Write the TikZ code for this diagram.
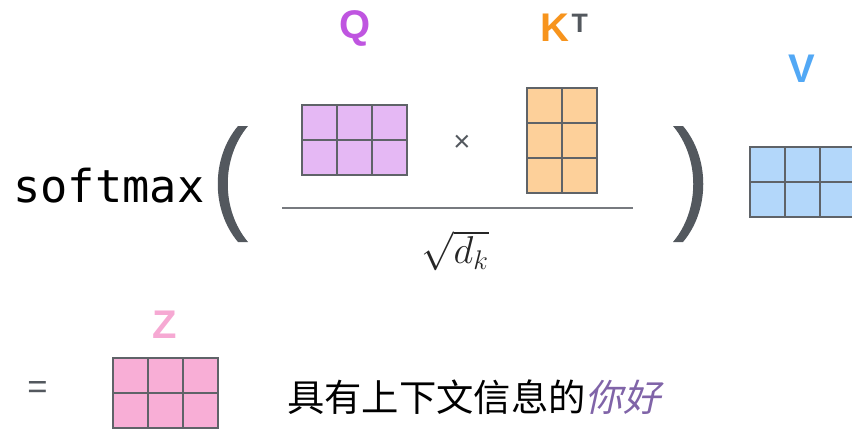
\documentclass[tikz,border=0pt]{standalone}
\usepackage{fontspec}
\setmainfont{Liberation Sans}
\newfontfamily\codefont{DejaVu Sans Mono}
\newfontfamily\cjkfont{Noto Sans CJK SC}
\newfontfamily\cjkslant[FakeSlant=0.22]{Noto Sans CJK SC}
\definecolor{atInk}{HTML}{53585E}
\definecolor{atGrid}{HTML}{5F6368}
\definecolor{atQ}{HTML}{BF55E0}
\definecolor{atQfill}{HTML}{E5B8F4}
\definecolor{atK}{HTML}{F7941D}
\definecolor{atKfill}{HTML}{FDD09A}
\definecolor{atV}{HTML}{52A8F5}
\definecolor{atVfill}{HTML}{B3D7FA}
\definecolor{atZ}{HTML}{F6A9D3}
\definecolor{atZfill}{HTML}{F8AED6}
\definecolor{atGreet}{HTML}{8064A8}
\usetikzlibrary{positioning}

\begin{document}
\begin{tikzpicture}[
  x=0.75pt,y=-0.75pt,
  cell/.style={draw=atGrid,line width=0.9pt,minimum size=26.25pt,inner sep=0pt,outer sep=0pt},
  qcell/.style={cell,fill=atQfill},
  kcell/.style={cell,fill=atKfill},
  vcell/.style={cell,fill=atVfill},
  zcell/.style={cell,fill=atZfill},
  mlbl/.style={font=\fontsize{30}{32}\selectfont\bfseries,inner sep=0pt},
  paren/.style={fill=atInk,draw=none}
]
\clip (0,0) rectangle (852,428);
\def\side{35}
% matrices
\foreach \r in {0,1}
  \foreach \k in {0,1,2}
  {
    \node[qcell] (q\r\k) at ({302+\side/2+\k*\side},{105+\side/2+\r*\side}) {};
    \node[vcell] (v\r\k) at ({750+\side/2+\k*\side},{147+\side/2+\r*\side}) {};
    \node[zcell] (z\r\k) at ({113+\side/2+\k*\side},{358+\side/2+\r*\side}) {};
  }
\foreach \r in {0,1,2}
  \foreach \k in {0,1}
    \node[kcell] (k\r\k) at ({527+\side/2+\k*\side},{88+\side/2+\r*\side}) {};

% labels
\node[mlbl,text=atQ] (qlbl) at (355,28) {Q};
\node[mlbl,text=atK] (klbl) at (555,28) {K};
\node[anchor=north west,inner sep=0pt,font=\fontsize{20}{22}\selectfont\bfseries,text=atInk]
  (tlbl) at ([xshift=1.2pt]klbl.north east) {T};
\node[mlbl,text=atV] (vlbl) at (802,69) {V};
\node[mlbl,text=atZ] (zlbl) at (165,325) {Z};

% softmax( ... )
\node[anchor=base west,inner sep=0pt,font=\codefont\fontsize{34}{36}\selectfont,text=black]
  (smax) at (13,202) {softmax};
\fill[paren] (238,126) .. controls (211,158) and (211,210) .. (238,242)
  -- (248,242) .. controls (221,210) and (221,158) .. (248,126) -- cycle;
\fill[paren] (683,126) .. controls (710,158) and (710,210) .. (683,242)
  -- (673,242) .. controls (700,210) and (700,158) .. (673,126) -- cycle;
\node[font=\fontsize{22}{24}\selectfont,text=atInk] (times) at (462,143) {×};
\draw[atGrid!85,line width=1.5pt] (282,208) -- (633,208);
\node[font=\fontsize{24}{26}\selectfont,text=black!85] (root) at (455,251)
  {\scalebox{1.17}{$\sqrt{d_k}$}};

% result
\node[font=\fontsize{26}{28}\selectfont,text=atInk] (eq) at (37.5,390) {=};
\node[anchor=west,inner sep=0pt,font=\cjkfont\fontsize{28}{30}\selectfont,text=black]
  (ctx) at (287,397) {具有上下文信息的{\cjkslant\color{atGreet}你好}};
\end{tikzpicture}
\end{document}
